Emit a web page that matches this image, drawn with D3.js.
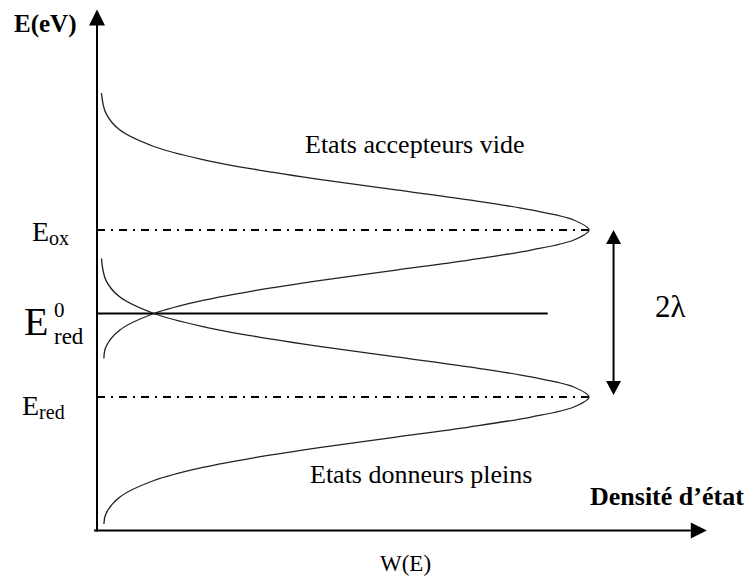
<!DOCTYPE html>
<html>
<head>
<meta charset="utf-8">
<script src="https://cdn.jsdelivr.net/npm/d3@7"></script>
<style>
  html, body { margin: 0; padding: 0; background: #fff; }
  svg { display: block; }
  text { font-family: "Liberation Serif", "Times New Roman", serif; fill: #000; }
</style>
</head>
<body>
<svg id="chart" width="752" height="577"></svg>
<script>
// Energy levels (eV, relative to E0red) and the 2λ gap between them
const levelNames = ["Eox", "E0red", "Ered"];
const levelEnergy = [0.5, 0.0, -0.5];

// Density of empty acceptor states W(E), centred on Eox
const acceptorE = [1.32, 1.20, 1.10, 1.00, 0.92, 0.86, 0.80, 0.74, 0.68, 0.62, 0.56, 0.50,
                   0.44, 0.38, 0.32, 0.26, 0.20, 0.14, 0.08, 0.00, -0.10, -0.20, -0.27];
const acceptorW = [0.007, 0.016, 0.044, 0.114, 0.216, 0.325, 0.458, 0.607, 0.755, 0.882, 0.969, 1.0,
                   0.969, 0.882, 0.755, 0.607, 0.458, 0.325, 0.216, 0.114, 0.044, 0.016, 0.012];

// Density of filled donor states W(E), centred on Ered
const donorE = [0.33, 0.20, 0.10, 0.00, -0.08, -0.14, -0.20, -0.26, -0.32, -0.38, -0.44, -0.50,
                -0.56, -0.62, -0.68, -0.74, -0.80, -0.86, -0.92, -1.00, -1.10, -1.20, -1.26];
const donorW = [0.007, 0.016, 0.044, 0.114, 0.216, 0.325, 0.458, 0.607, 0.755, 0.882, 0.969, 1.0,
                0.969, 0.882, 0.755, 0.607, 0.458, 0.325, 0.216, 0.114, 0.044, 0.016, 0.012];

// Extents of the drawn axes and reference lines, in data units
const axisE = [-1.30, 1.82];
const axisW = [-0.006, 1.24];
const levelLineW = [1.0, 0.916, 1.0];

const svg = d3.select("#chart");

const x = d3.scaleLinear().domain([0, 1]).range([98, 589]);
const y = d3.scaleLinear().domain([-0.5, 0.5]).range([397, 230]);

// Axes with arrow heads
const axisG = svg.append("g").attr("stroke", "#000").attr("stroke-width", 2);
axisG.append("line")
  .attr("x1", x(0) - 1).attr("x2", x(0) - 1)
  .attr("y1", y(axisE[0]) + 1).attr("y2", y(axisE[1]) + 14);
svg.append("path")
  .attr("d", `M${x(0) - 1},${y(axisE[1])} l-8,16 l16,0 Z`)
  .attr("fill", "#000");

axisG.append("line")
  .attr("x1", x(axisW[0]) - 1).attr("x2", x(axisW[1]) - 16)
  .attr("y1", y(axisE[0])).attr("y2", y(axisE[0]));
svg.append("path")
  .attr("d", `M${x(axisW[1])},${y(axisE[0])} l-16,-8 l0,16 Z`)
  .attr("fill", "#000");

// Level lines: dash-dot for Eox / Ered, solid for E0red
levelEnergy.forEach((e, i) => {
  svg.append("line")
    .attr("x1", x(0) - 1).attr("x2", x(levelLineW[i]))
    .attr("y1", y(e)).attr("y2", y(e))
    .attr("stroke", "#000").attr("stroke-width", 2)
    .attr("stroke-dasharray", i === 1 ? null : "8,6,2,6");
});

// Density of states curves
const line = d3.line()
  .x(d => x(d[1]))
  .y(d => y(d[0]))
  .curve(d3.curveCatmullRom.alpha(0.5));

[[acceptorE, acceptorW], [donorE, donorW]].forEach(([es, ws]) => {
  svg.append("path")
    .datum(d3.zip(es, ws))
    .attr("d", line)
    .attr("fill", "none")
    .attr("stroke", "#222")
    .attr("stroke-width", 1.3);
});

// 2λ double arrow between Eox and Ered
const ax = x(1.05);
svg.append("line")
  .attr("x1", ax).attr("x2", ax)
  .attr("y1", y(levelEnergy[0]) + 12).attr("y2", y(levelEnergy[2]) - 12)
  .attr("stroke", "#000").attr("stroke-width", 2);
svg.append("path")
  .attr("d", `M${ax},${y(levelEnergy[0])} l-7.5,14 l15,0 Z M${ax},${y(levelEnergy[2]) - 2} l-7.5,-14 l15,0 Z`)
  .attr("fill", "#000");

// Labels
const txt = (s, px, py, size, weight) => svg.append("text")
  .attr("x", px).attr("y", py)
  .attr("font-size", size)
  .attr("font-weight", weight || "normal")
  .text(s);

txt("E(eV)", 14, 32, 25, "bold");

// Eox
const eox = svg.append("text").attr("x", 32).attr("y", 241).attr("font-size", 28);
eox.append("tspan").text("E");
eox.append("tspan").attr("font-size", 20).attr("dy", 4).text("ox");

// E0red
txt("E", 24, 335, 40);
txt("0", 54, 317, 21);
txt("red", 54, 344, 23);

// Ered
const ered = svg.append("text").attr("x", 22).attr("y", 415).attr("font-size", 28);
ered.append("tspan").text("E");
ered.append("tspan").attr("font-size", 20).attr("dy", 4).text("red");

txt("2λ", 655, 317, 31);
txt("Etats accepteurs vide", 305, 153, 26);
txt("Etats donneurs pleins", 310, 483, 26);
txt("Densité d’état", 590, 505, 26, "bold");
txt("W(E)", 380, 571, 23);
</script>
</body>
</html>
